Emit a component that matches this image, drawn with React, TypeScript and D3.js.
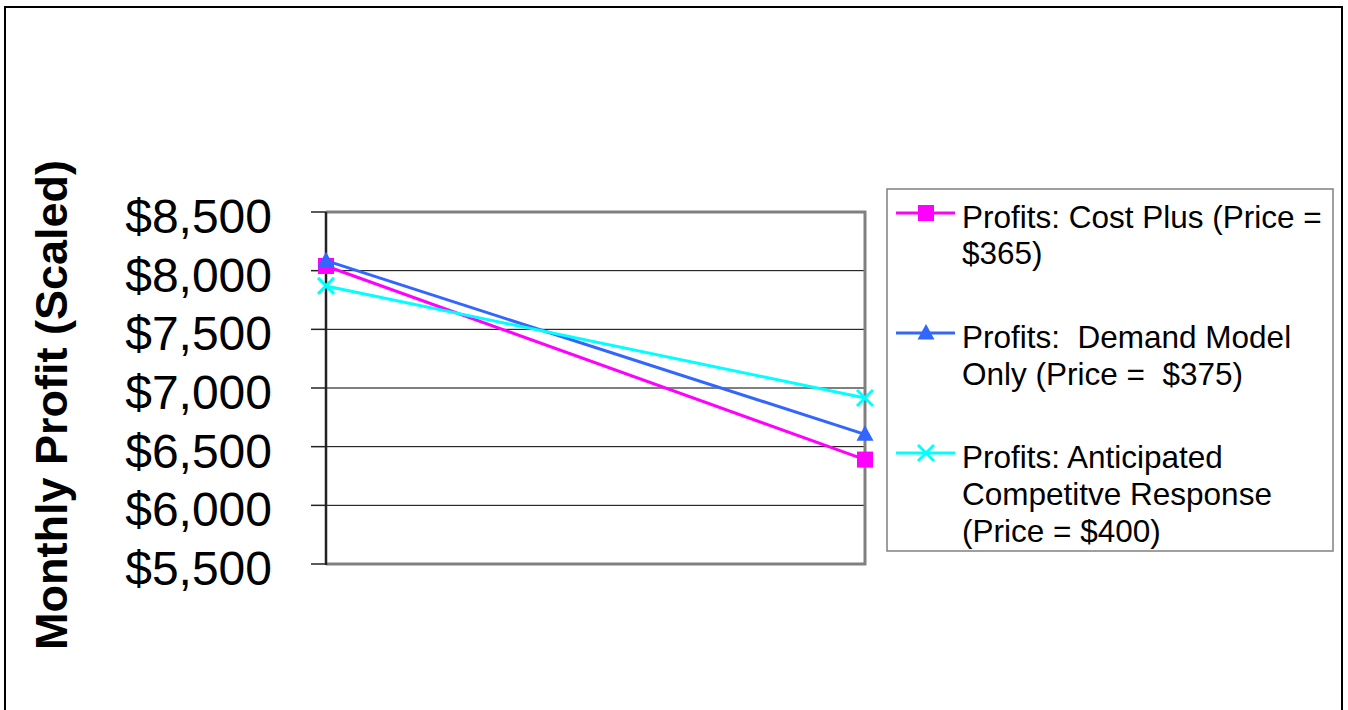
import React from "react";
import * as d3 from "d3";

const categories = ["Scenario 1", "Scenario 2"];
const costPlus = [8040, 6390];
const demandModel = [8085, 6605];
const competitive = [7870, 6915];
const yTicks = [5500, 6000, 6500, 7000, 7500, 8000, 8500];
const seriesNames = [
  ["Profits: Cost Plus (Price =", "$365)"],
  ["Profits:  Demand Model", "Only (Price =  $375)"],
  ["Profits: Anticipated", "Competitve Response", "(Price = $400)"],
];
const yTitle = "Monthly Profit (Scaled)";

const FONT = "'Liberation Sans', Arial, sans-serif";

export default function App() {
  const W = 1348, H = 710;
  const left = 326, right = 865, top = 212, bottom = 564;
  const x = d3.scalePoint<string>().domain(categories).range([left, right]);
  const y = d3.scaleLinear().domain([5500, 8500]).range([bottom, top]);
  const fmt = (v: number) => "$" + d3.format(",")(v);

  const series = [
    { values: costPlus, color: "#FF00FF", marker: "square" },
    { values: demandModel, color: "#3366FF", marker: "triangle" },
    { values: competitive, color: "#00FFFF", marker: "x" },
  ];

  const line = d3
    .line<number>()
    .x((_, i) => x(categories[i]) as number)
    .y((d) => y(d));

  const marker = (type: string, cx: number, cy: number, color: string, key: string) => {
    if (type === "square")
      return <rect key={key} x={cx - 8} y={cy - 8} width={16} height={16} fill={color} />;
    if (type === "triangle")
      return (
        <path key={key} d={`M${cx},${cy - 9}L${cx + 8.5},${cy + 6.5}L${cx - 8.5},${cy + 6.5}Z`} fill={color} />
      );
    return (
      <path
        key={key}
        d={`M${cx - 8},${cy - 8}L${cx + 8},${cy + 8}M${cx - 8},${cy + 8}L${cx + 8},${cy - 8}`}
        stroke={color}
        strokeWidth={3}
        fill="none"
      />
    );
  };

  const legendX = 887, legendY = 189, legendW = 446, legendH = 362;
  const blockBaselines = [[228, 264], [348, 385], [468, 505, 542]];

  return (
    <svg
      width={W}
      height={H}
      style={{ position: "absolute", left: 0, top: 0, background: "#fff" }}
      fontFamily={FONT}
    >
      <rect x={0} y={0} width={W} height={H} fill="#fff" />
      {/* outer border */}
      <path d={`M5,${H + 5}L5,7L1342,7L1342,${H + 5}`} fill="none" stroke="#000" strokeWidth={2} />

      {/* gridlines */}
      {yTicks.slice(1, -1).map((t) => (
        <line key={"g" + t} x1={left} x2={right} y1={y(t)} y2={y(t)} stroke="#000" strokeWidth={1} />
      ))}
      {/* plot border */}
      <path
        d={`M${left},${top}L${right},${top}L${right},${bottom}L${left},${bottom}`}
        fill="none"
        stroke="#808080"
        strokeWidth={3}
      />
      {/* y axis */}
      <line x1={left} x2={left} y1={top} y2={bottom + 1} stroke="#222" strokeWidth={2.5} />
      {yTicks.map((t) => (
        <g key={"t" + t}>
          <line x1={311} x2={left} y1={y(t)} y2={y(t)} stroke="#222" strokeWidth={1.5} />
          <text x={272} y={y(t) + 21} textAnchor="end" fontSize={48} fill="#000">
            {fmt(t)}
          </text>
        </g>
      ))}

      {/* y title */}
      <text
        transform={`translate(67,405) rotate(-90)`}
        textAnchor="middle"
        fontSize={45}
        fontWeight="bold"
        fill="#000"
      >
        {yTitle}
      </text>

      {/* series */}
      {series.map((s, si) => (
        <g key={"s" + si}>
          <path d={line(s.values) as string} fill="none" stroke={s.color} strokeWidth={3} />
          {s.values.map((v, i) =>
            marker(s.marker, x(categories[i]) as number, y(v), s.color, `m${si}-${i}`)
          )}
        </g>
      ))}

      {/* legend */}
      <rect x={legendX} y={legendY} width={legendW} height={legendH} fill="#fff" stroke="#808080" strokeWidth={1.5} />
      {series.map((s, si) => {
        const bl = blockBaselines[si];
        const sy = bl[0] - 15;
        return (
          <g key={"l" + si}>
            <line x1={896} x2={955} y1={sy} y2={sy} stroke={s.color} strokeWidth={3} />
            {marker(s.marker, 926, sy, s.color, "lm" + si)}
            {seriesNames[si].map((ln, li) => (
              <text
                key={li}
                x={962}
                y={bl[li]}
                fontSize={31.5}
                fill="#000"
                style={{ whiteSpace: "pre" }}
              >
                {ln}
              </text>
            ))}
          </g>
        );
      })}
    </svg>
  );
}
